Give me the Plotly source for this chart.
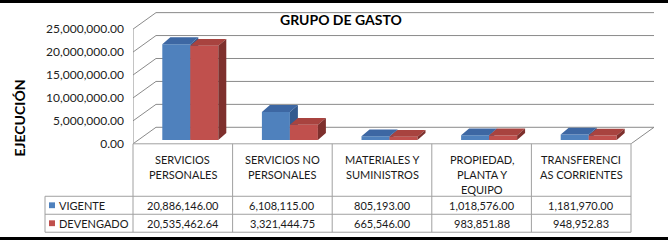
import plotly.graph_objects as go

# ---------------- data ----------------
categories = ["SERVICIOS<br>PERSONALES", "SERVICIOS NO<br>PERSONALES",
              "MATERIALES Y<br>SUMINISTROS", "PROPIEDAD,<br>PLANTA Y<br>EQUIPO",
              "TRANSFERENCI<br>AS CORRIENTES"]
series_names = ["VIGENTE", "DEVENGADO"]
vigente = [20886146.00, 6108115.00, 805193.00, 1018576.00, 1181970.00]
devengado = [20535462.64, 3321444.75, 665546.00, 983851.88, 948952.83]
tick_values = [0, 5000000, 10000000, 15000000, 20000000, 25000000]
title_text = "GRUPO DE GASTO"
yaxis_title = "EJECUCIÓN"

# ---------------- style / geometry ----------------
W, H = 668, 247
FONT = "Lato"
XU = 99.6            # px per category
YPX_PER_M = 4.72     # px per 1,000,000
LEFT, RIGHT, FLOOR, TOP = 133, 656, 148, 12
WALL_DX, WALL_DY = 23, 17
BAR_OX, BAR_OY = 7.5, 4
BAR_W = 28
BAR_DX, BAR_DY = 8, 7
colors = {
    "VIGENTE": ("#4F81BD", "#3D67A3", "#345A8E"),
    "DEVENGADO": ("#C0504D", "#A8433F", "#7E302D"),
}
GRID = "#8a8a8a"
TLINE = "#a0a0a0"


def dxu(p):
    return p / XU


def dyu(p):
    return p / YPX_PER_M * 1e6


def px(x):
    return x / W


def py(y):
    return 1 - y / H


fig = go.Figure()

n = len(categories)
base = dyu(BAR_OY)
series = [vigente, devengado]
for si, (name, vals) in enumerate(zip(series_names, series)):
    front_c, top_c, side_c = colors[name]
    fx, fy, tx, ty, sx, sy = [], [], [], [], [], []
    for i, v in enumerate(vals):
        left = i + dxu(BAR_OX - BAR_W) + si * dxu(BAR_W)
        right = left + dxu(BAR_W)
        top = base + v
        ddx, ddy = dxu(BAR_DX), dyu(BAR_DY)
        fx += [left, right, right, left, left, None]
        fy += [base, base, top, top, base, None]
        tx += [left, right, right + ddx, left + ddx, left, None]
        ty += [top, top, top + ddy, top + ddy, top, None]
        sx += [right, right + ddx, right + ddx, right, right, None]
        sy += [base, base + ddy, top + ddy, top, base, None]
    for xs, ys, c in ((fx, fy, front_c), (tx, ty, top_c), (sx, sy, side_c)):
        fig.add_trace(go.Scatter(x=xs, y=ys, mode="lines", fill="toself",
                                 fillcolor=c, line=dict(width=0, color=c),
                                 hoverinfo="skip", showlegend=False))

shapes = []
wdx, wdy = dxu(WALL_DX), dyu(WALL_DY)
x0 = -0.5
x1 = n - 0.5
for v in tick_values:
    shapes.append(dict(type="line", xref="x", yref="y", x0=x0 + wdx, x1=x1 + wdx,
                       y0=v + wdy, y1=v + wdy, line=dict(color=GRID, width=1)))
    shapes.append(dict(type="line", xref="x", yref="y", x0=x0, x1=x0 + wdx,
                       y0=v, y1=v + wdy, line=dict(color=GRID, width=1)))
shapes.append(dict(type="line", xref="x", yref="y", x0=x0, x1=x0,
                   y0=0, y1=tick_values[-1], line=dict(color=GRID, width=1)))
shapes.append(dict(type="line", xref="x", yref="y", x0=x1, x1=x1 + wdx,
                   y0=0, y1=wdy, line=dict(color=GRID, width=1)))

# data table lines
row_tops = [FLOOR, 202, 220.5, 239]
legend_left = 45
for k, yy in enumerate(row_tops):
    xa = px(LEFT) if k == 0 else px(legend_left)
    shapes.append(dict(type="line", xref="paper", yref="paper",
                       x0=xa, x1=px(LEFT + n * XU), y0=py(yy), y1=py(yy),
                       line=dict(color=TLINE, width=1)))
for i in range(n + 1):
    xx = px(LEFT + i * XU)
    shapes.append(dict(type="line", xref="paper", yref="paper",
                       x0=xx, x1=xx, y0=py(FLOOR), y1=py(row_tops[-1]),
                       line=dict(color=TLINE, width=1)))
shapes.append(dict(type="line", xref="paper", yref="paper",
                   x0=px(legend_left), x1=px(legend_left), y0=py(row_tops[1]),
                   y1=py(row_tops[-1]), line=dict(color=TLINE, width=1)))

# legend keys
for r, name in enumerate(series_names):
    yc = (row_tops[r + 1] + row_tops[r + 2]) / 2
    shapes.append(dict(type="rect", xref="paper", yref="paper",
                       x0=px(49), x1=px(55), y0=py(yc + 3), y1=py(yc - 3),
                       fillcolor=colors[name][0], line=dict(width=0)))

# black borders
shapes.append(dict(type="rect", xref="paper", yref="paper", x0=0, x1=1,
                   y0=py(3), y1=1, fillcolor="black", line=dict(width=0)))
shapes.append(dict(type="rect", xref="paper", yref="paper", x0=0, x1=1,
                   y0=0, y1=py(244), fillcolor="black", line=dict(width=0)))

annotations = []
TXT = "#1a1a1a"
for i, cat in enumerate(categories):
    cx = px(LEFT + (i + 0.5) * XU)
    for j, line in enumerate(cat.split("<br>")):
        annotations.append(dict(x=cx, y=py(164.5 + 15.5 * j), xref="paper", yref="paper",
                                text=line, showarrow=False, xanchor="center", yanchor="middle",
                                font=dict(family=FONT, size=11, color=TXT)))
for r, (name, vals) in enumerate(zip(series_names, series)):
    yc = (row_tops[r + 1] + row_tops[r + 2]) / 2
    annotations.append(dict(x=px(57), y=py(yc), xref="paper", yref="paper", text=name,
                            showarrow=False, xanchor="left", yanchor="middle",
                            font=dict(family=FONT, size=11, color=TXT)))
    for i, v in enumerate(vals):
        annotations.append(dict(x=px(LEFT + (i + 0.5) * XU), y=py(yc), xref="paper",
                                yref="paper", text=f"{v:,.2f}", showarrow=False,
                                xanchor="center", yanchor="middle",
                                font=dict(family=FONT, size=11, color=TXT)))
annotations.append(dict(x=px(341), y=py(20), xref="paper", yref="paper", text=f"<b>{title_text}</b>",
                        showarrow=False, xanchor="center", yanchor="middle",
                        font=dict(family=FONT, size=14, color="black")))
annotations.append(dict(x=px(20), y=py(122), xref="paper", yref="paper", text=f"<b>{yaxis_title}</b>",
                        showarrow=False, xanchor="center", yanchor="middle", textangle=-90,
                        font=dict(family=FONT, size=14, color="black")))

fig.update_layout(
    width=W, height=H,
    margin=dict(l=0, r=0, t=0, b=0),
    paper_bgcolor="white", plot_bgcolor="rgba(0,0,0,0)",
    showlegend=False,
    shapes=shapes, annotations=annotations,
    xaxis=dict(domain=[px(LEFT), px(RIGHT)], range=[-0.5, -0.5 + (RIGHT - LEFT) / XU],
               visible=False, fixedrange=True),
    yaxis=dict(domain=[py(FLOOR), py(TOP)], range=[0, dyu(FLOOR - TOP)],
               tickvals=tick_values, tickformat=",.2f", showgrid=False, zeroline=False,
               showline=False, ticks="", ticklabelstandoff=8,
               tickfont=dict(family=FONT, size=12, color="#222"), fixedrange=True),
)
fig.for_each_shape(lambda s: s.update(layer="below") if s.xref == "x" else None)

fig.write_html("out.html")
